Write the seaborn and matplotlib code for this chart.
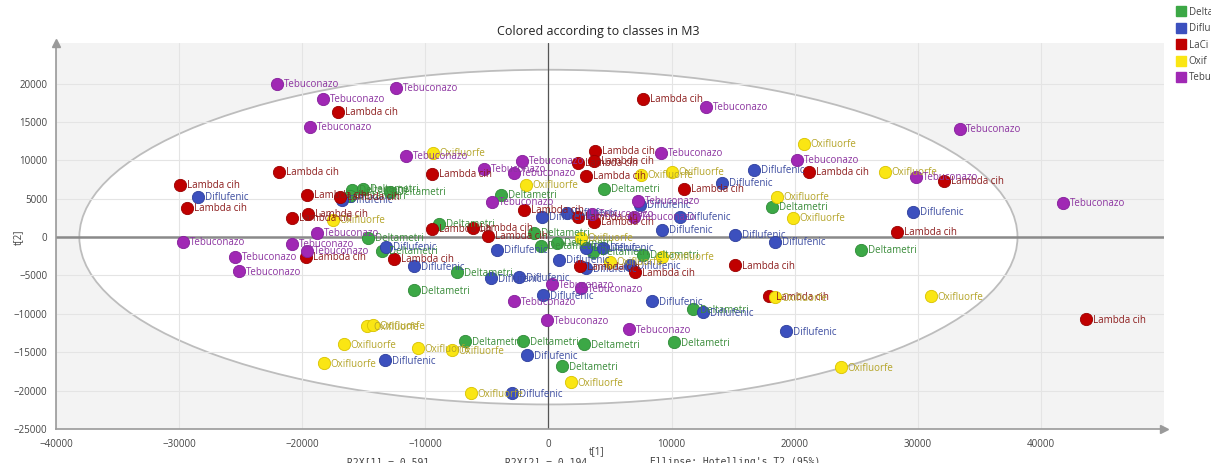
import matplotlib
matplotlib.use("Agg")
import matplotlib.pyplot as plt
from matplotlib.patches import Ellipse
from matplotlib.lines import Line2D
from matplotlib.ticker import MultipleLocator
import numpy as np
import pandas as pd
import seaborn as sns

# Score values t[1], t[2] per class
tebu_t1 = [-22010, -18280, -12350, -19330, -11530, -5200, -2760, -2110, -4550, -18760,
           -20800, -19580, -29650, -25420, -25100, 320, 2680, -2760, -80, 6580,
           12830, 9180, 20230, 33390, 41830, 29890, 7310, 3570, 6990]
tebu_t2 = [19970, 18020, 19450, 14360, 10570, 8880, 8360, 9920, 4570, 520,
           -910, -1830, -650, -2610, -4440, -6140, -6660, -8360, -10840, -12010,
           16970, 10970, 10050, 14100, 4440, 7830, 4700, 3000, 2610]

laci_t1 = [-29890, -29320, -21850, -20800, -17060, -19580, -16900, -19500, -9420, -9420,
           -6090, -1950, -4870, -19660, -12510, 3820, 2440, 3740, 3090, 11050,
           21200, 2440, 3740, 2600, 7070, 15190, 17950, 7720, 32170, 28350, 43700]
laci_t2 = [6790, 3790, 8490, 2480, 16320, 5480, 5220, 3000, 8220, 1040,
           1170, 3520, 130, -2610, -2870, 11230, 9660, 9920, 7960, 6270,
           8490, 2610, 1960, -3790, -4570, -3660, -7700, 18020, 7310, 650, -10710]

diflu_t1 = [-28430, -16730, -13160, -10880, -4630, -2360, -4140, -490, 1540, 890,
            -410, 16730, 14130, 7470, 10720, 9260, 15190, 18440, 3090, 4470,
            3090, 6660, 8450, 29650, 12590, 19330, -13240, -1710, -2920]
diflu_t2 = [5220, 4830, -1310, -3790, -5350, -5220, -1700, 2610, 3130, -3000,
            -7570, 8750, 7050, 4180, 2610, 910, 260, -650, -1440, -1440,
            -4050, -3660, -8360, 3260, -9790, -12270, -16060, -15400, -20370]

delta_t1 = [-15920, -15030, -16080, -12830, -3820, -8850, -14620, -13480, -7390, -10880,
            -1140, -570, 730, 4550, 18200, 3660, 7720, 25420, 11780, 10230,
            -6740, -2030, 2920, 1140]
delta_t2 = [6140, 6270, 5350, 5870, 5480, 1700, -130, -1830, -4570, -6920,
            520, -1170, -780, 6270, 3920, -1960, -2350, -1700, -9400, -13710,
            -13580, -13580, -13970, -16840]

oxif_t1 = [-9340, -17460, -1790, 7550, 10070, 20790, 18600, 19900, 2680, 5040,
           9260, 18440, 27370, 31110, 23800, -14700, -14220, -16570, -10560, -7800,
           -18200, -6250, 1870]
oxif_t2 = [10970, 2220, 6790, 8090, 8490, 12140, 5220, 2480, -130, -3260,
           -2610, -7830, 8490, -7700, -16970, -11620, -11490, -13970, -14490, -14750,
           -16450, -20370, -18930]

classes = ["Delta", "Diflu", "LaCi", "Oxif", "Tebu"]
point_labels = {"Delta": "Deltametri", "Diflu": "Diflufenic", "LaCi": "Lambda cih",
                "Oxif": "Oxifluorfe", "Tebu": "Tebuconazo"}
series = {"Delta": (delta_t1, delta_t2), "Diflu": (diflu_t1, diflu_t2),
          "LaCi": (laci_t1, laci_t2), "Oxif": (oxif_t1, oxif_t2),
          "Tebu": (tebu_t1, tebu_t2)}

fill = {"Delta": "#3ca846", "Diflu": "#3c50be", "LaCi": "#c00000",
        "Oxif": "#fae614", "Tebu": "#a028b4"}
edge = {"Delta": "#2f8a38", "Diflu": "#2e3f9c", "LaCi": "#9a0000",
        "Oxif": "#d8c200", "Tebu": "#84209a"}
text_col = {"Delta": "#3a8c3a", "Diflu": "#3c4ca0", "LaCi": "#8c1c1c",
            "Oxif": "#b4a428", "Tebu": "#8c34a0"}

rows = []
for c in classes:
    xs, ys = series[c]
    for x, y in zip(xs, ys):
        rows.append({"t1": x, "t2": y, "klass": c, "name": point_labels[c]})
df = pd.DataFrame(rows)

sns.set_theme(style="white")
plt.rcParams["font.family"] = ["Open Sans", "DejaVu Sans"]

fig = plt.figure(figsize=(12.11, 4.63), dpi=100)
ax = fig.add_axes([0.0462, 0.0734, 0.915, 0.834])
ax.set_facecolor("#f3f3f3")

ax.set_xlim(-40000, 50000)
ax.set_ylim(-25000, 25300)

# Hotelling's T2 ellipse
ax.add_patch(Ellipse((0, 0), width=2 * 38100, height=2 * 21800,
                     facecolor="white", edgecolor="#bdbdbd", lw=1.3, zorder=0.2))

ax.set_axisbelow(True)
ax.grid(True, color="#e4e4e4", lw=0.8)
ax.axhline(0, color="#8a8a8a", lw=1.8, zorder=1)
ax.axvline(0, color="#555555", lw=0.9, zorder=1)

for c in classes:
    sub = df[df.klass == c]
    sns.scatterplot(data=sub, x="t1", y="t2", ax=ax, color=fill[c], s=78,
                    edgecolor=edge[c], linewidth=0.6, legend=False, zorder=3)
    for _, r in sub.iterrows():
        ax.annotate(r["name"], (r.t1, r.t2), xytext=(4.6, -0.6),
                    textcoords="offset points", fontsize=7, color=text_col[c],
                    va="center", ha="left", zorder=4)

ax.set_xticks(np.arange(-40000, 40001, 10000))
ax.set_yticks(np.arange(-25000, 20001, 5000))
ax.xaxis.set_minor_locator(MultipleLocator(2000))
ax.yaxis.set_minor_locator(MultipleLocator(1000))
ax.tick_params(axis="both", which="major", labelsize=7, colors="#8a8a8a",
               labelcolor="#444444", length=4, width=0.8, direction="out")
ax.tick_params(axis="both", which="minor", colors="#8a8a8a", length=2.5, width=0.6)
ax.tick_params(axis="x", pad=3)
ax.tick_params(axis="y", pad=2)

for side in ["top", "right"]:
    ax.spines[side].set_visible(False)
for side in ["left", "bottom"]:
    ax.spines[side].set_color("#9a9a9a")
    ax.spines[side].set_linewidth(1.2)

# axis arrow heads
ax.plot([1.0], [0.0], marker=">", color="#9a9a9a", ms=6, transform=ax.transAxes,
        clip_on=False, zorder=5)
ax.plot([0.0], [1.0], marker="^", color="#9a9a9a", ms=6, transform=ax.transAxes,
        clip_on=False, zorder=5)

ax.set_xlabel("")
ax.set_ylabel("")
fig.text(597 / 1211, 1 - 452 / 463, "t[1]", fontsize=7, color="#444444",
         ha="center", va="center")
fig.text(18 / 1211, 1 - 237 / 463, "t[2]", fontsize=7, color="#444444",
         ha="center", va="center", rotation=90)

fig.text(598 / 1211, 1 - 31 / 463, "Colored according to classes in M3",
         fontsize=9, color="#222222", ha="center", va="center")

mono = ["DejaVu Sans Mono"]
fig.text(388 / 1211, 1 - 462 / 463, "R2X[1] = 0.591", fontsize=7, family=mono,
         color="#444444", ha="center", va="center")
fig.text(546 / 1211, 1 - 462 / 463, "R2X[2] = 0.194", fontsize=7, family=mono,
         color="#444444", ha="center", va="center")
fig.text(735 / 1211, 1 - 462 / 463, "Ellipse: Hotelling's T2 (95%)", fontsize=7,
         family=mono, color="#444444", ha="center", va="center")

handles = [Line2D([0], [0], marker="s", linestyle="", markersize=7.5,
                  markerfacecolor=fill[c], markeredgecolor=fill[c]) for c in classes]
fig.legend(handles, classes, loc="upper left", bbox_to_anchor=(1172 / 1211, 1 - 3 / 463),
           frameon=False, fontsize=7, handletextpad=0.3, labelspacing=0.55,
           borderaxespad=0, handlelength=1.0, labelcolor="#444444")

fig.savefig("out.png", dpi=100)
